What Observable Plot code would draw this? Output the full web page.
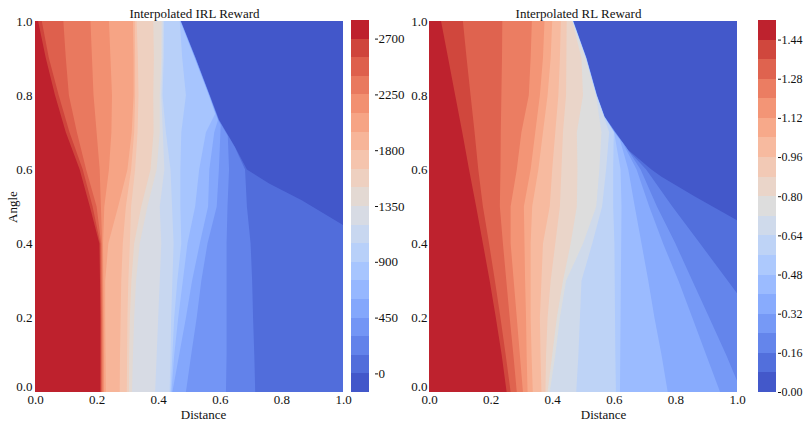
<!DOCTYPE html>
<html><head><meta charset="utf-8">
<script src="https://cdn.jsdelivr.net/npm/d3@7"></script>
<script src="https://cdn.jsdelivr.net/npm/@observablehq/plot@0.6"></script>
<style>
html,body{margin:0;padding:0;background:#fff;}
#chart{position:relative;width:811px;height:421px;overflow:hidden;}
#chart svg{position:absolute;top:0;}
</style></head><body><div id="chart"></div>
<script>
// ---- axis ticks & colour levels ----
const axisTicks = [0.2, 0.4, 0.6, 0.8, 1.0];
const irlLevels = [-150,0,150,300,450,600,750,900,1050,1200,1350,1500,1650,1800,1950,2100,2250,2400,2550,2700,2850];
const irlTicks = [0,450,900,1350,1800,2250,2700];
const rlLevels = [0,0.08,0.16,0.24,0.32,0.40,0.48,0.56,0.64,0.72,0.80,0.88,0.96,1.04,1.12,1.20,1.28,1.36,1.44,1.52];
const rlTicks = [0,0.16,0.32,0.48,0.64,0.80,0.96,1.12,1.28,1.44];
// matplotlib "coolwarm" colormap anchors
const coolwarm = ["#3b4cc0","#445acc","#4d68d7","#5775e1","#6282ea","#6c8ef1","#779af7","#82a5fb","#8db0fe","#98b9ff","#a3c2ff","#aec9fd","#b8d0f9","#c2d5f4","#ccd9ee","#d5dbe6","#dddddd","#e5d8d1","#ecd3c5","#f1ccb9","#f5c4ad","#f7bba0","#f7b194","#f7a687","#f49a7b","#f18d6f","#ec7f63","#e57058","#de604d","#d55042","#cb3e38","#c0282f","#b40426"];

// ---- IRL reward contour lines: [level, [[angle, distance], ...]]  (reward >= level left of the line) ----
const irlContours = [
 [0,    [[1,0.474],[0.9,0.522],[0.8,0.568],[0.733,0.598],[0.66,0.65],[0.6,0.688],[0.562,0.76],[0.517,0.866],[0.45,1],[0,1]]],
 [150,  [[1,0.473],[0.9,0.521],[0.8,0.567],[0.733,0.597],[0.66,0.649],[0.6,0.682],[0.5,0.688],[0.4,0.7],[0.3,0.705],[0.2,0.708],[0.1,0.712],[0,0.715]]],
 [300,  [[1,0.473],[0.9,0.521],[0.8,0.566],[0.733,0.596],[0.69,0.626],[0.6,0.63],[0.5,0.625],[0.4,0.622],[0.3,0.622],[0.2,0.622],[0.1,0.622],[0,0.62]]],
 [450,  [[1,0.472],[0.9,0.52],[0.8,0.566],[0.733,0.595],[0.72,0.603],[0.6,0.597],[0.5,0.59],[0.4,0.56],[0.3,0.54],[0.2,0.525],[0.1,0.507],[0,0.49]]],
 [600,  [[1,0.472],[0.9,0.519],[0.8,0.565],[0.733,0.594],[0.7,0.582],[0.6,0.566],[0.5,0.562],[0.4,0.535],[0.3,0.51],[0.2,0.49],[0.1,0.468],[0,0.446]]],
 [750,  [[1,0.471],[0.9,0.518],[0.8,0.564],[0.75,0.585],[0.7,0.555],[0.6,0.533],[0.5,0.52],[0.4,0.495],[0.3,0.48],[0.2,0.465],[0.1,0.452],[0,0.443]]],
 [900,  [[1,0.47],[0.9,0.478],[0.8,0.49],[0.7,0.475],[0.6,0.472],[0.5,0.472],[0.4,0.475],[0.3,0.462],[0.2,0.452],[0.1,0.446],[0,0.44]]],
 [1050, [[1,0.419],[0.9,0.418],[0.8,0.414],[0.7,0.425],[0.6,0.44],[0.5,0.445],[0.4,0.45],[0.3,0.446],[0.2,0.442],[0.1,0.44],[0,0.437]]],
 [1200, [[1,0.415],[0.9,0.414],[0.8,0.41],[0.7,0.415],[0.6,0.42],[0.5,0.405],[0.4,0.41],[0.3,0.405],[0.2,0.4],[0.1,0.395],[0,0.39]]],
 [1350, [[1,0.411],[0.9,0.41],[0.8,0.405],[0.7,0.405],[0.6,0.395],[0.5,0.365],[0.4,0.34],[0.3,0.328],[0.2,0.322],[0.1,0.318],[0,0.315]]],
 [1500, [[1,0.384],[0.9,0.386],[0.8,0.384],[0.7,0.385],[0.6,0.375],[0.5,0.345],[0.4,0.322],[0.3,0.313],[0.2,0.308],[0.1,0.306],[0,0.305]]],
 [1650, [[1,0.33],[0.9,0.334],[0.8,0.336],[0.7,0.333],[0.6,0.325],[0.5,0.312],[0.4,0.308],[0.3,0.303],[0.2,0.3],[0.1,0.299],[0,0.298]]],
 [1800, [[1,0.324],[0.9,0.325],[0.8,0.325],[0.7,0.322],[0.6,0.312],[0.5,0.295],[0.4,0.285],[0.3,0.28],[0.2,0.278],[0.1,0.276],[0,0.275]]],
 [1950, [[1,0.318],[0.9,0.32],[0.8,0.32],[0.7,0.314],[0.6,0.3],[0.5,0.27],[0.4,0.238],[0.3,0.228],[0.2,0.228],[0.1,0.229],[0,0.23]]],
 [2100, [[1,0.24],[0.9,0.245],[0.8,0.25],[0.7,0.248],[0.6,0.24],[0.5,0.225],[0.4,0.221],[0.3,0.222],[0.2,0.223],[0.1,0.224],[0,0.224]]],
 [2250, [[1,0.18],[0.9,0.185],[0.8,0.19],[0.7,0.2],[0.6,0.21],[0.5,0.214],[0.4,0.218],[0.3,0.219],[0.2,0.22],[0.1,0.22],[0,0.22]]],
 [2400, [[1,0.092],[0.9,0.1],[0.8,0.11],[0.7,0.136],[0.6,0.166],[0.5,0.2],[0.4,0.215],[0.3,0.216],[0.2,0.217],[0.1,0.217],[0,0.217]]],
 [2550, [[1,0.022],[0.9,0.045],[0.8,0.077],[0.7,0.112],[0.6,0.155],[0.5,0.187],[0.4,0.212],[0.3,0.213],[0.2,0.214],[0.1,0.214],[0,0.214]]],
 [2700, [[1,0.01],[0.9,0.035],[0.8,0.065],[0.7,0.1],[0.6,0.145],[0.5,0.178],[0.4,0.209],[0.3,0.211],[0.2,0.212],[0.1,0.212],[0,0.212]]]
];

// ---- RL reward contour lines: [level, [[angle, distance], ...]] ----
const rlContours = [
 [0.08, [[1,0.469],[0.9,0.512],[0.8,0.546],[0.742,0.571],[0.7,0.606],[0.652,0.647],[0.6,0.722],[0.58,0.755],[0.527,0.863],[0.463,1],[0,1]]],
 [0.16, [[1,0.468],[0.9,0.511],[0.8,0.545],[0.742,0.57],[0.7,0.605],[0.652,0.646],[0.6,0.705],[0.5,0.79],[0.4,0.88],[0.3,0.97],[0.266,1],[0,1]]],
 [0.24, [[1,0.468],[0.9,0.511],[0.8,0.545],[0.742,0.57],[0.7,0.604],[0.66,0.64],[0.6,0.687],[0.5,0.74],[0.4,0.8],[0.3,0.855],[0.2,0.91],[0.1,0.965],[0.03,1],[0,1]]],
 [0.32, [[1,0.467],[0.9,0.51],[0.8,0.544],[0.742,0.569],[0.7,0.603],[0.67,0.63],[0.6,0.674],[0.5,0.715],[0.4,0.76],[0.3,0.81],[0.2,0.855],[0.1,0.9],[0,0.945]]],
 [0.40, [[1,0.467],[0.9,0.51],[0.8,0.544],[0.742,0.569],[0.7,0.602],[0.68,0.62],[0.6,0.647],[0.5,0.668],[0.4,0.69],[0.3,0.712],[0.2,0.732],[0.1,0.755],[0,0.775]]],
 [0.48, [[1,0.467],[0.9,0.51],[0.8,0.544],[0.742,0.569],[0.7,0.601],[0.6,0.622],[0.5,0.625],[0.4,0.624],[0.3,0.623],[0.2,0.622],[0.1,0.621],[0,0.62]]],
 [0.56, [[1,0.466],[0.9,0.509],[0.8,0.543],[0.742,0.568],[0.72,0.586],[0.7,0.6],[0.6,0.598],[0.5,0.598],[0.4,0.602],[0.3,0.603],[0.2,0.604],[0.1,0.605],[0,0.607]]],
 [0.64, [[1,0.466],[0.9,0.509],[0.8,0.543],[0.742,0.568],[0.7,0.585],[0.6,0.575],[0.5,0.562],[0.4,0.53],[0.3,0.495],[0.2,0.49],[0.1,0.485],[0,0.478]]],
 [0.72, [[1,0.466],[0.9,0.508],[0.8,0.542],[0.7,0.56],[0.6,0.553],[0.5,0.543],[0.4,0.5],[0.3,0.445],[0.2,0.425],[0.1,0.41],[0,0.392]]],
 [0.80, [[1,0.465],[0.9,0.495],[0.8,0.5],[0.7,0.48],[0.6,0.482],[0.5,0.48],[0.4,0.46],[0.3,0.435],[0.2,0.415],[0.1,0.4],[0,0.385]]],
 [0.88, [[1,0.447],[0.9,0.446],[0.8,0.445],[0.7,0.435],[0.6,0.43],[0.5,0.425],[0.4,0.41],[0.3,0.395],[0.2,0.385],[0.1,0.38],[0,0.378]]],
 [0.96, [[1,0.428],[0.9,0.425],[0.8,0.42],[0.7,0.41],[0.6,0.4],[0.5,0.392],[0.4,0.37],[0.3,0.365],[0.2,0.36],[0.1,0.362],[0,0.365]]],
 [1.04, [[1,0.4],[0.9,0.395],[0.8,0.385],[0.7,0.37],[0.6,0.355],[0.5,0.335],[0.4,0.33],[0.3,0.33],[0.2,0.33],[0.1,0.333],[0,0.337]]],
 [1.12, [[1,0.375],[0.9,0.37],[0.8,0.36],[0.7,0.345],[0.6,0.33],[0.5,0.308],[0.4,0.31],[0.3,0.312],[0.2,0.315],[0.1,0.317],[0,0.32]]],
 [1.20, [[1,0.334],[0.9,0.33],[0.8,0.324],[0.7,0.3],[0.6,0.285],[0.5,0.265],[0.4,0.265],[0.3,0.275],[0.2,0.285],[0.1,0.295],[0,0.305]]],
 [1.28, [[1,0.238],[0.9,0.237],[0.8,0.235],[0.7,0.233],[0.6,0.232],[0.5,0.23],[0.4,0.24],[0.3,0.251],[0.2,0.262],[0.1,0.274],[0,0.285]]],
 [1.36, [[1,0.11],[0.9,0.122],[0.8,0.135],[0.7,0.148],[0.6,0.16],[0.5,0.175],[0.4,0.195],[0.3,0.214],[0.2,0.232],[0.1,0.249],[0,0.265]]],
 [1.44, [[1,0.039],[0.9,0.062],[0.8,0.085],[0.7,0.108],[0.6,0.13],[0.5,0.153],[0.4,0.175],[0.3,0.197],[0.2,0.217],[0.1,0.236],[0,0.252]]]
];

const cw = d3.piecewise(d3.interpolateRgb, coolwarm);
const FONT = "Liberation Serif, Times New Roman, serif";

function colorScale(levels) {
  const n = levels.length - 1;
  return {type: "threshold", domain: levels.slice(1, -1), range: d3.range(n).map(k => cw((k + 0.5) / n))};
}

function field({contours, levels, title, titleDx, xLabelDx, angleLabel, tickPad}) {
  const bandMarks = [Plot.rect([{level: levels[0]}], {fill: "level"})];
  for (const [level, line] of contours) {
    const pts = line.map(([angle, distance]) => ({angle, distance, level}));
    bandMarks.push(Plot.areaX(pts, {x: "distance", y: "angle", fill: "level", curve: "linear"}));
  }
  const marks = [
    ...bandMarks,
    Plot.axisX([0, ...axisTicks], {tickSize: 0, tickPadding: 2, tickFormat: ".1f", label: null}),
    Plot.axisY(axisTicks, {tickSize: 0, tickPadding: tickPad, tickFormat: ".1f", label: null}),
    Plot.axisY([0], {tickSize: 0, tickPadding: tickPad, tickFormat: ".1f", label: null, dy: -6}),
    Plot.text([title], {frameAnchor: "top", lineAnchor: "middle", dy: -8, dx: titleDx}),
    Plot.text(["Distance"], {frameAnchor: "bottom", lineAnchor: "middle", dy: 22.5, dx: xLabelDx})
  ];
  if (angleLabel) marks.push(Plot.text(["Angle"], {frameAnchor: "left", textAnchor: "middle", lineAnchor: "middle", rotate: -90, dx: -23}));
  return Plot.plot({
    width: 350, height: 421, marginLeft: 35, marginRight: 7, marginTop: 21, marginBottom: 29,
    x: {domain: [0, 1]}, y: {domain: [0, 1]},
    color: colorScale(levels),
    style: {fontFamily: FONT, fontSize: "13px", background: "transparent", color: "#111", overflow: "visible", maxWidth: "none"},
    marks
  });
}

function colorbar({levels, ticks, fmt, dx, fontSize, width, marginRight}) {
  const bands = levels.slice(0, -1).map((lo, i) => ({lo, hi: levels[i + 1]}));
  return Plot.plot({
    width, height: 421, marginLeft: 1, marginRight, marginTop: 20, marginBottom: 29,
    y: {domain: [levels[0], levels[levels.length - 1]]},
    color: colorScale(levels),
    style: {fontFamily: FONT, fontSize, background: "transparent", color: "#111", overflow: "visible", maxWidth: "none"},
    marks: [
      Plot.rect(bands, {y1: "lo", y2: "hi", fill: "lo", shapeRendering: "crispEdges"}),
      Plot.axisY(ticks, {anchor: "right", tickSize: 3, tickPadding: 1, dx, tickFormat: fmt, label: null})
    ]
  });
}

const root = document.getElementById("chart");
const place = (svg, left) => { svg.style.left = left + "px"; root.appendChild(svg); };

place(field({contours: irlContours, levels: irlLevels, title: "Interpolated IRL Reward", titleDx: 5, xLabelDx: 14, angleLabel: true, tickPad: 3}), 0);
place(colorbar({levels: irlLevels, ticks: irlTicks, fmt: d3.format("d"), dx: 5, fontSize: "13px", width: 56, marginRight: 37}), 350);
place(field({contours: rlContours, levels: rlLevels, title: "Interpolated RL Reward", titleDx: -5, xLabelDx: 20, angleLabel: false, tickPad: 2}), 394);
place(colorbar({levels: rlLevels, ticks: rlTicks, fmt: d3.format(".2f"), dx: 1, fontSize: "12px", width: 54, marginRight: 35}), 757);
</script></body></html>
